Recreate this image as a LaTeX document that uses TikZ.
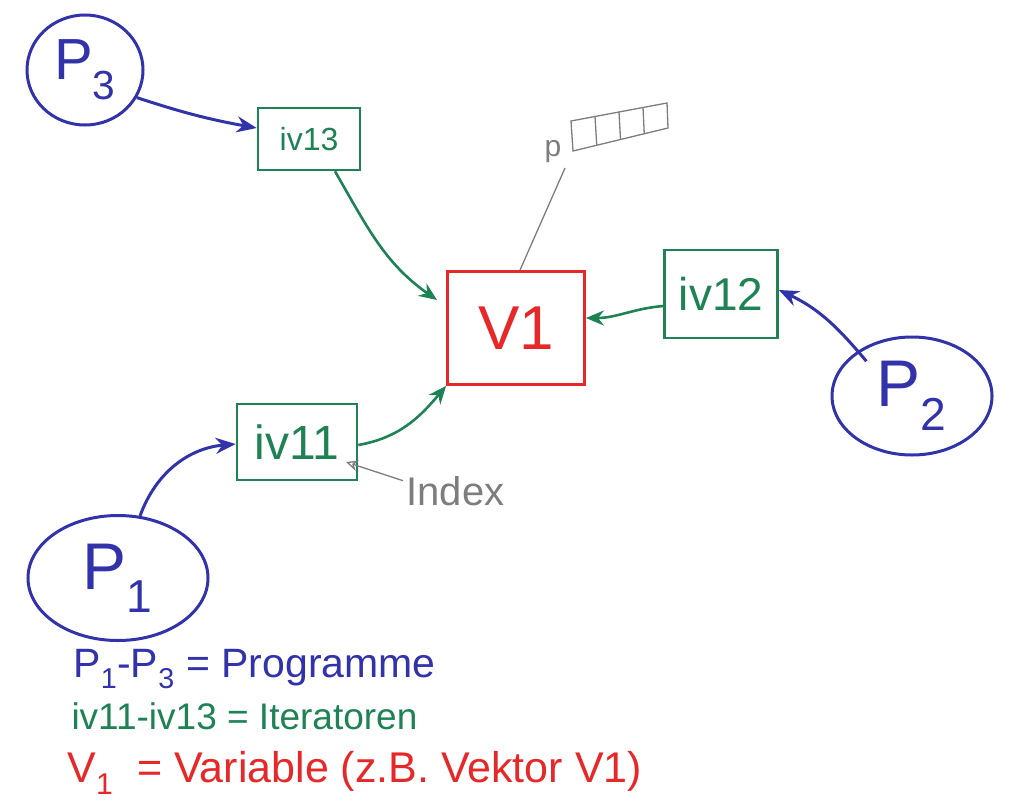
\documentclass[tikz,border=0pt]{standalone}
\usepackage{fontspec}
\setmainfont{Liberation Sans}
\usetikzlibrary{arrows.meta,shapes.geometric,calc}
\definecolor{pblue}{RGB}{50,50,170}
\definecolor{igreen}{RGB}{30,130,85}
\definecolor{vred}{RGB}{230,40,40}
\definecolor{ngray}{RGB}{125,125,125}
\tikzset{
  prog/.style={draw=pblue, ellipse, line width=3pt, text=pblue, inner sep=0pt},
  iter/.style={draw=igreen, rectangle, line width=2.6pt, text=igreen, inner sep=0pt},
  varbox/.style={draw=vred, rectangle, line width=2.8pt, text=vred, inner sep=0pt},
  parr/.style={pblue, line width=3pt, -{Stealth[length=20pt,width=16pt]}},
  iarr/.style={igreen, line width=2.6pt, -{Stealth[length=18pt,width=15pt]}},
  garr/.style={ngray, line width=1.3pt, -{Stealth[length=12pt,width=11pt,open]}},
  thin gray/.style={ngray, line width=1.3pt},
  fs/.style={font=\fontsize{#1}{#1}\selectfont}
}
\begin{document}
\begin{tikzpicture}[x=1pt,y=-1pt]
\useasboundingbox (0,0) rectangle (1016,800);
% programs
\node[prog, minimum width=116, minimum height=110, fs=58] (P3) at (85,70) {P\textsubscript{3}};
\node[prog, minimum width=160, minimum height=118, fs=66] (P2) at (912,396) {P\textsubscript{2}};
\node[prog, minimum width=180, minimum height=125, fs=66] (P1) at (118,578) {P\textsubscript{1}};
% iterators
\node[iter, minimum width=102, minimum height=62, fs=32] (iv13) at (309,139) {iv13};
\node[iter, minimum width=113, minimum height=88, fs=46] (iv12) at (721,294) {iv12};
\node[iter, minimum width=120, minimum height=76, fs=48] (iv11) at (297,442) {iv11};
% variable
\node[varbox, minimum width=137, minimum height=113, fs=62] (V1) at (516,328) {V1};
% arrows programs -> iterators
\draw[parr] (P3.-28) to[bend right=4] (iv13.west |- 0,128);
\draw[parr] (P1.north) ++(22,2) coordinate (p1s) to[out=70,in=185] (iv11.west |- 0,444);
\draw[parr] (P2.north west) ++(12,8) coordinate (p2s) to[out=130,in=-25] (iv12.east |- 0,290);
% arrows iterators -> variable
\draw[iarr] (iv13.south) ++(26,0) coordinate (i13s) to[out=-60,in=145] (437,300) coordinate (v1a);
\draw[iarr] (iv12.west |- 0,306) coordinate (i12w) to[out=185,in=0] (V1.east |- 0,318);
\draw[iarr] (iv11.east |- 0,445) coordinate (i11e) to[out=10,in=-130] (V1.south west);
% p array
\node[text=ngray, fs=30, anchor=base] (p) at (553,156) {p};
\coordinate (tl) at (571,121);
\coordinate (tr) at (667,103);
\coordinate (br) at (668,128);
\coordinate (bl) at (573,151);
\draw[thin gray] (tl) -- (tr) -- (br) -- (bl) -- cycle;
\foreach \k in {0.25,0.5,0.75} \draw[thin gray] ($(tl)!\k!(tr)$) -- ($(bl)!\k!(br)$);
\coordinate (pl) at (565,168);
\draw[thin gray] (pl) -- (V1.north west -| 520,0);
% index
\node[text=ngray, fs=40, anchor=base west] (idx) at (403,505) {Index};
\draw[garr] (idx.west) ++(0,-10) -- (346,462);
% legend
\node[text=pblue, fs=41, anchor=base west] (l1) at (70,677) {P\textsubscript{1}-P\textsubscript{3} = Programme};
\node[text=igreen, fs=37, anchor=base west] (l2) at (68,729) {iv11-iv13 = Iteratoren};
\node[text=vred, fs=43, anchor=base west] (l3) at (64,782) {V\textsubscript{1} \ = Variable (z.B. Vektor V1)};
\end{tikzpicture}
\end{document}
